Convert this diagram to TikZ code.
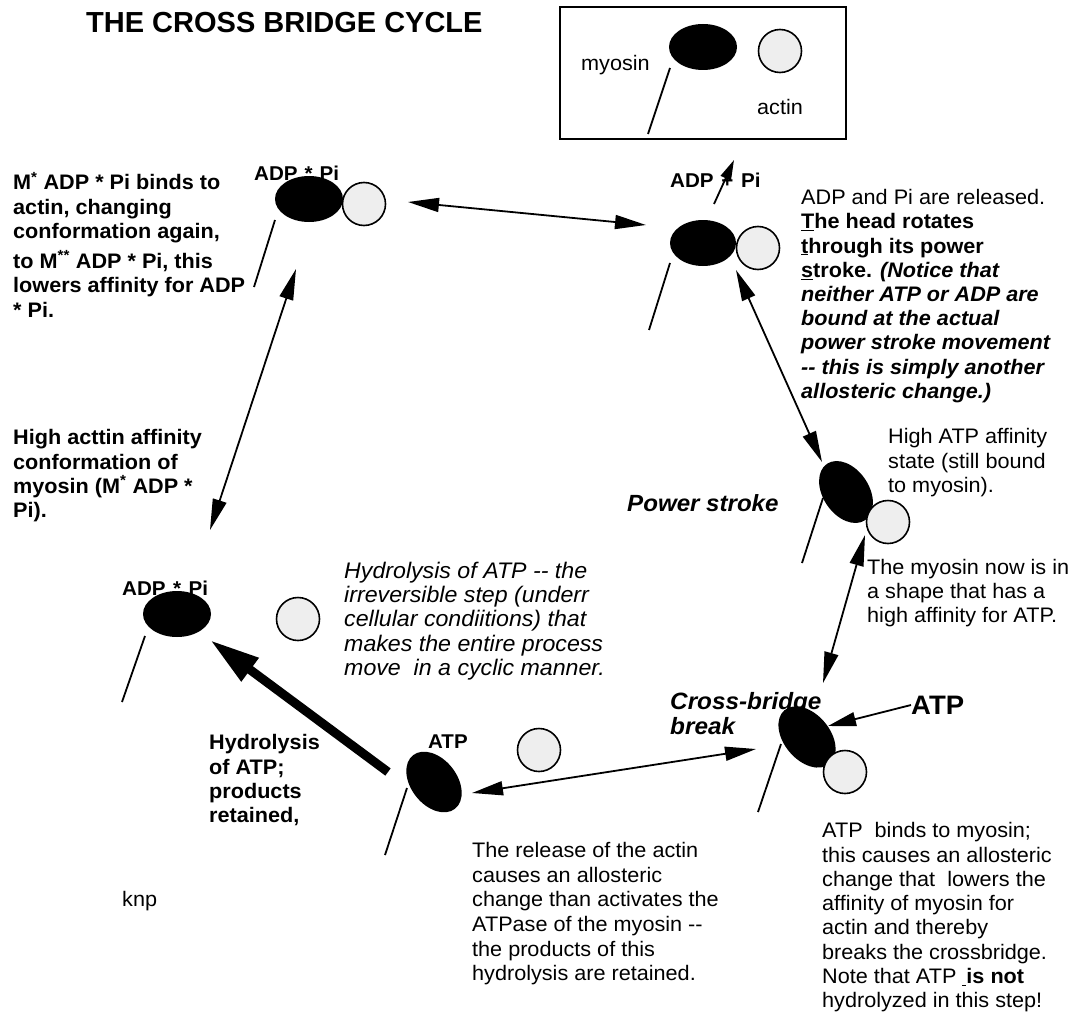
\documentclass[tikz,border=0pt]{standalone}
\usepackage{fontspec}
\setmainfont{Liberation Sans}[FakeStretch=1.03]
\newfontfamily\titlefont{Liberation Sans}
\usetikzlibrary{arrows.meta,shapes.geometric}
\definecolor{actgray}{HTML}{EEEEEE}
\newcommand{\tstrut}{\rule{0pt}{1em}}
\begin{document}
\begin{tikzpicture}[x=1pt,y=-1pt,
  mol/.style={ellipse, fill=black, inner sep=0pt, minimum width=68pt, minimum height=46pt},
  act/.style={circle, draw=black, line width=1.6pt, fill=actgray, inner sep=0pt, minimum size=43pt},
  tailline/.style={line width=1.8pt},
  txt/.style={inner sep=0pt, anchor=north west, align=left},
  lbl/.style={inner sep=0pt, anchor=west, font=\bfseries\fontsize{20}{22}\selectfont},
  conn/.style={line width=1.8pt, arrows={Triangle[length=31pt,width=14pt]-Triangle[length=31pt,width=14pt]}},
  oneway/.style={line width=1.8pt, arrows={-Triangle[length=28pt,width=14pt]}},
  smallway/.style={line width=1.8pt, arrows={-Triangle[length=20pt,width=11pt]}},
  bigway/.style={line width=9pt, arrows={-Triangle[length=50pt,width=27pt]}}
]
\fill[white] (0,0) rectangle (1075,1011);
\useasboundingbox (0,0) rectangle (1075,1011);

% title
\node[inner sep=0pt, anchor=west, font=\titlefont\bfseries\fontsize{29}{34}\selectfont] (title) at (86,23) {THE CROSS BRIDGE CYCLE};

% legend box
\node[draw, line width=1.5pt, minimum width=286pt, minimum height=132pt, inner sep=0pt] (legend) at (703,73) {};
\coordinate (t0a) at (670,68); \coordinate (t0b) at (648,134);
\draw[tailline] (t0a) -- (t0b);
\node[mol] (m0) at (703,47) {};
\node[act] (a0) at (780,51) {};
\node[inner sep=0pt, anchor=base west, font=\fontsize{21}{24}\selectfont] (lmyo) at (581,71) {myosin};
\node[inner sep=0pt, anchor=base west, font=\fontsize{21}{24}\selectfont] (lact) at (757,115) {actin};

% state 1 (top left)
\node[lbl] (l1) at (254,173) {ADP\hspace{7pt}*\hspace{7pt}Pi};
\coordinate (t1a) at (275,220); \coordinate (t1b) at (254,287);
\draw[tailline] (t1a) -- (t1b);
\node[mol] (m1) at (309,199) {};
\node[act] (a1) at (364,204) {};

% state 2 (top right)
\node[lbl] (l2) at (670,180) {ADP\hspace{7.7pt}+\hspace{7.7pt}Pi};
\coordinate (t2a) at (670,263); \coordinate (t2b) at (649,330);
\draw[tailline] (t2a) -- (t2b);
\node[mol, minimum width=66pt] (m2) at (703,243) {};
\node[act] (a2) at (758,248) {};

% state 3 (right, high ATP affinity)
\coordinate (t3a) at (823,498); \coordinate (t3b) at (802,563);
\draw[tailline] (t3a) -- (t3b);
\node[mol, minimum width=68pt, rotate=-56] (m3) at (846,492) {};
\node[act] (a3) at (888,522) {};

% state 4 (cross-bridge break)
\coordinate (t4a) at (781,744); \coordinate (t4b) at (758,812);
\draw[tailline] (t4a) -- (t4b);
\node[mol, minimum width=70pt, rotate=-50] (m4) at (807,737) {};
\node[act] (a4) at (845,772) {};

% state 5 (ATP, bottom middle)
\node[inner sep=0pt, anchor=west, font=\bfseries\fontsize{19.9}{22}\selectfont] (l5) at (428,742) {ATP};
\coordinate (t5a) at (407,788); \coordinate (t5b) at (385,855);
\draw[tailline] (t5a) -- (t5b);
\node[mol, rotate=-52] (m5) at (434,782) {};
\node[act] (a5) at (539,750) {};

% state 6 (left, ADP * Pi)
\node[lbl] (l6) at (122,588) {ADP\hspace{7.5pt}*\hspace{7.5pt}Pi};
\coordinate (t6a) at (145,636); \coordinate (t6b) at (122,702);
\draw[tailline] (t6a) -- (t6b);
\node[mol] (m6) at (177,614) {};
\node[act] (a6) at (298,619) {};

% big ATP
\node[inner sep=0pt, anchor=west, font=\bfseries\fontsize{26.7}{29}\selectfont] (bigatp) at (911,705) {ATP};

% connectors
\coordinate (c12a) at (408,202); \coordinate (c12b) at (646,225);
\draw[conn] (c12a) -- (c12b);
\coordinate (c20a) at (714,204); \coordinate (c20b) at (734,160);
\draw[smallway] (c20a) -- (c20b);
\coordinate (c16a) at (296,269); \coordinate (c16b) at (210,530);
\draw[conn] (c16a) -- (c16b);
\coordinate (c23a) at (736,270); \coordinate (c23b) at (822,462);
\draw[conn] (c23a) -- (c23b);
\coordinate (c34a) at (865,535); \coordinate (c34b) at (823,683);
\draw[conn] (c34a) -- (c34b);
\coordinate (c4atp) at (828,726);
\draw[oneway] (bigatp.west) -- (c4atp);
\coordinate (c45a) at (756,749); \coordinate (c45b) at (472,793);
\draw[conn] (c45a) -- (c45b);
\coordinate (c56a) at (388,772); \coordinate (c56b) at (210,640);
\draw[bigway] (c56a) -- (c56b);

% texts
\node[txt, font=\fontsize{21}{24.2}\selectfont] (ttr) at (801,183.5) {\tstrut ADP and Pi are released.\\
\textbf{\underline{T}he head rotates}\\
\textbf{\underline{t}hrough its power}\\
\textbf{\underline{s}troke. \textit{(Notice that}}\\
\textbf{\textit{neither ATP or ADP are}}\\
\textbf{\textit{bound at the actual}}\\
\textbf{\textit{power stroke movement}}\\
\textbf{\textit{-{}- this is simply another}}\\
\textbf{\textit{allosteric change.)}}};

\node[txt, font=\bfseries\fontsize{21}{24.6}\selectfont] (tlt) at (13,168.5) {\tstrut M\textsuperscript{*} ADP * Pi binds to\\
actin, changing\\
conformation again,\\[4.5pt]
to M\textsuperscript{**} ADP * Pi, this\\
lowers affinity for ADP\\
* Pi.};

\node[txt, font=\bfseries\fontsize{21}{24.3}\selectfont] (tla) at (13,423.5) {\tstrut High acttin affinity\\
conformation of\\
myosin (M\textsuperscript{*} ADP *\\
Pi).};

\node[txt, font=\itshape\fontsize{22.5}{24.3}\selectfont] (tit) at (344,555.6) {\tstrut Hydrolysis of ATP -{}- the\\
irreversible step (underr\\
cellular condiitions) that\\
makes the entire process\\
move\ \ in a cyclic manner.};

\node[txt, font=\fontsize{21}{24.6}\selectfont] (trel) at (472,836.5) {\tstrut The release of the actin\\
causes an allosteric\\
change than activates the\\
ATPase of the myosin -{}-\\
the products of this\\
hydrolysis are retained.};

\node[txt, font=\fontsize{21}{24.3}\selectfont] (tbind) at (822,816.5) {\tstrut ATP\ \ binds to myosin;\\
this causes an allosteric\\
change that\ \ lowers the\\
affinity of myosin for\\
actin and thereby\\
breaks the crossbridge.\\
Note that ATP \underline{\hspace{4pt}}\textbf{is not}\\
hydrolyzed in this step!};

\node[txt, font=\fontsize{21}{24.4}\selectfont] (thigh) at (888,422.5) {\tstrut High ATP affinity\\
state (still bound\\
to myosin).};

\node[txt, font=\fontsize{21}{24}\selectfont] (tnow) at (867,553.5) {\tstrut The myosin now is in\\
a shape that has a\\
high affinity for ATP.};

\node[txt, font=\bfseries\fontsize{21}{24.3}\selectfont] (thyd) at (209,728.5) {\tstrut Hydrolysis\\
of ATP;\\
products\\
retained,};

\node[txt, font=\bfseries\itshape\fontsize{23.6}{25}\selectfont] (tcb) at (670,685.8) {\tstrut Cross-bridge\\
break};

\node[inner sep=0pt, anchor=west, font=\bfseries\itshape\fontsize{23.4}{25}\selectfont] (tps) at (627,503) {Power stroke};

\node[inner sep=0pt, anchor=base west, font=\fontsize{21}{24}\selectfont] (knp) at (122,906) {knp};
\end{tikzpicture}
\end{document}
